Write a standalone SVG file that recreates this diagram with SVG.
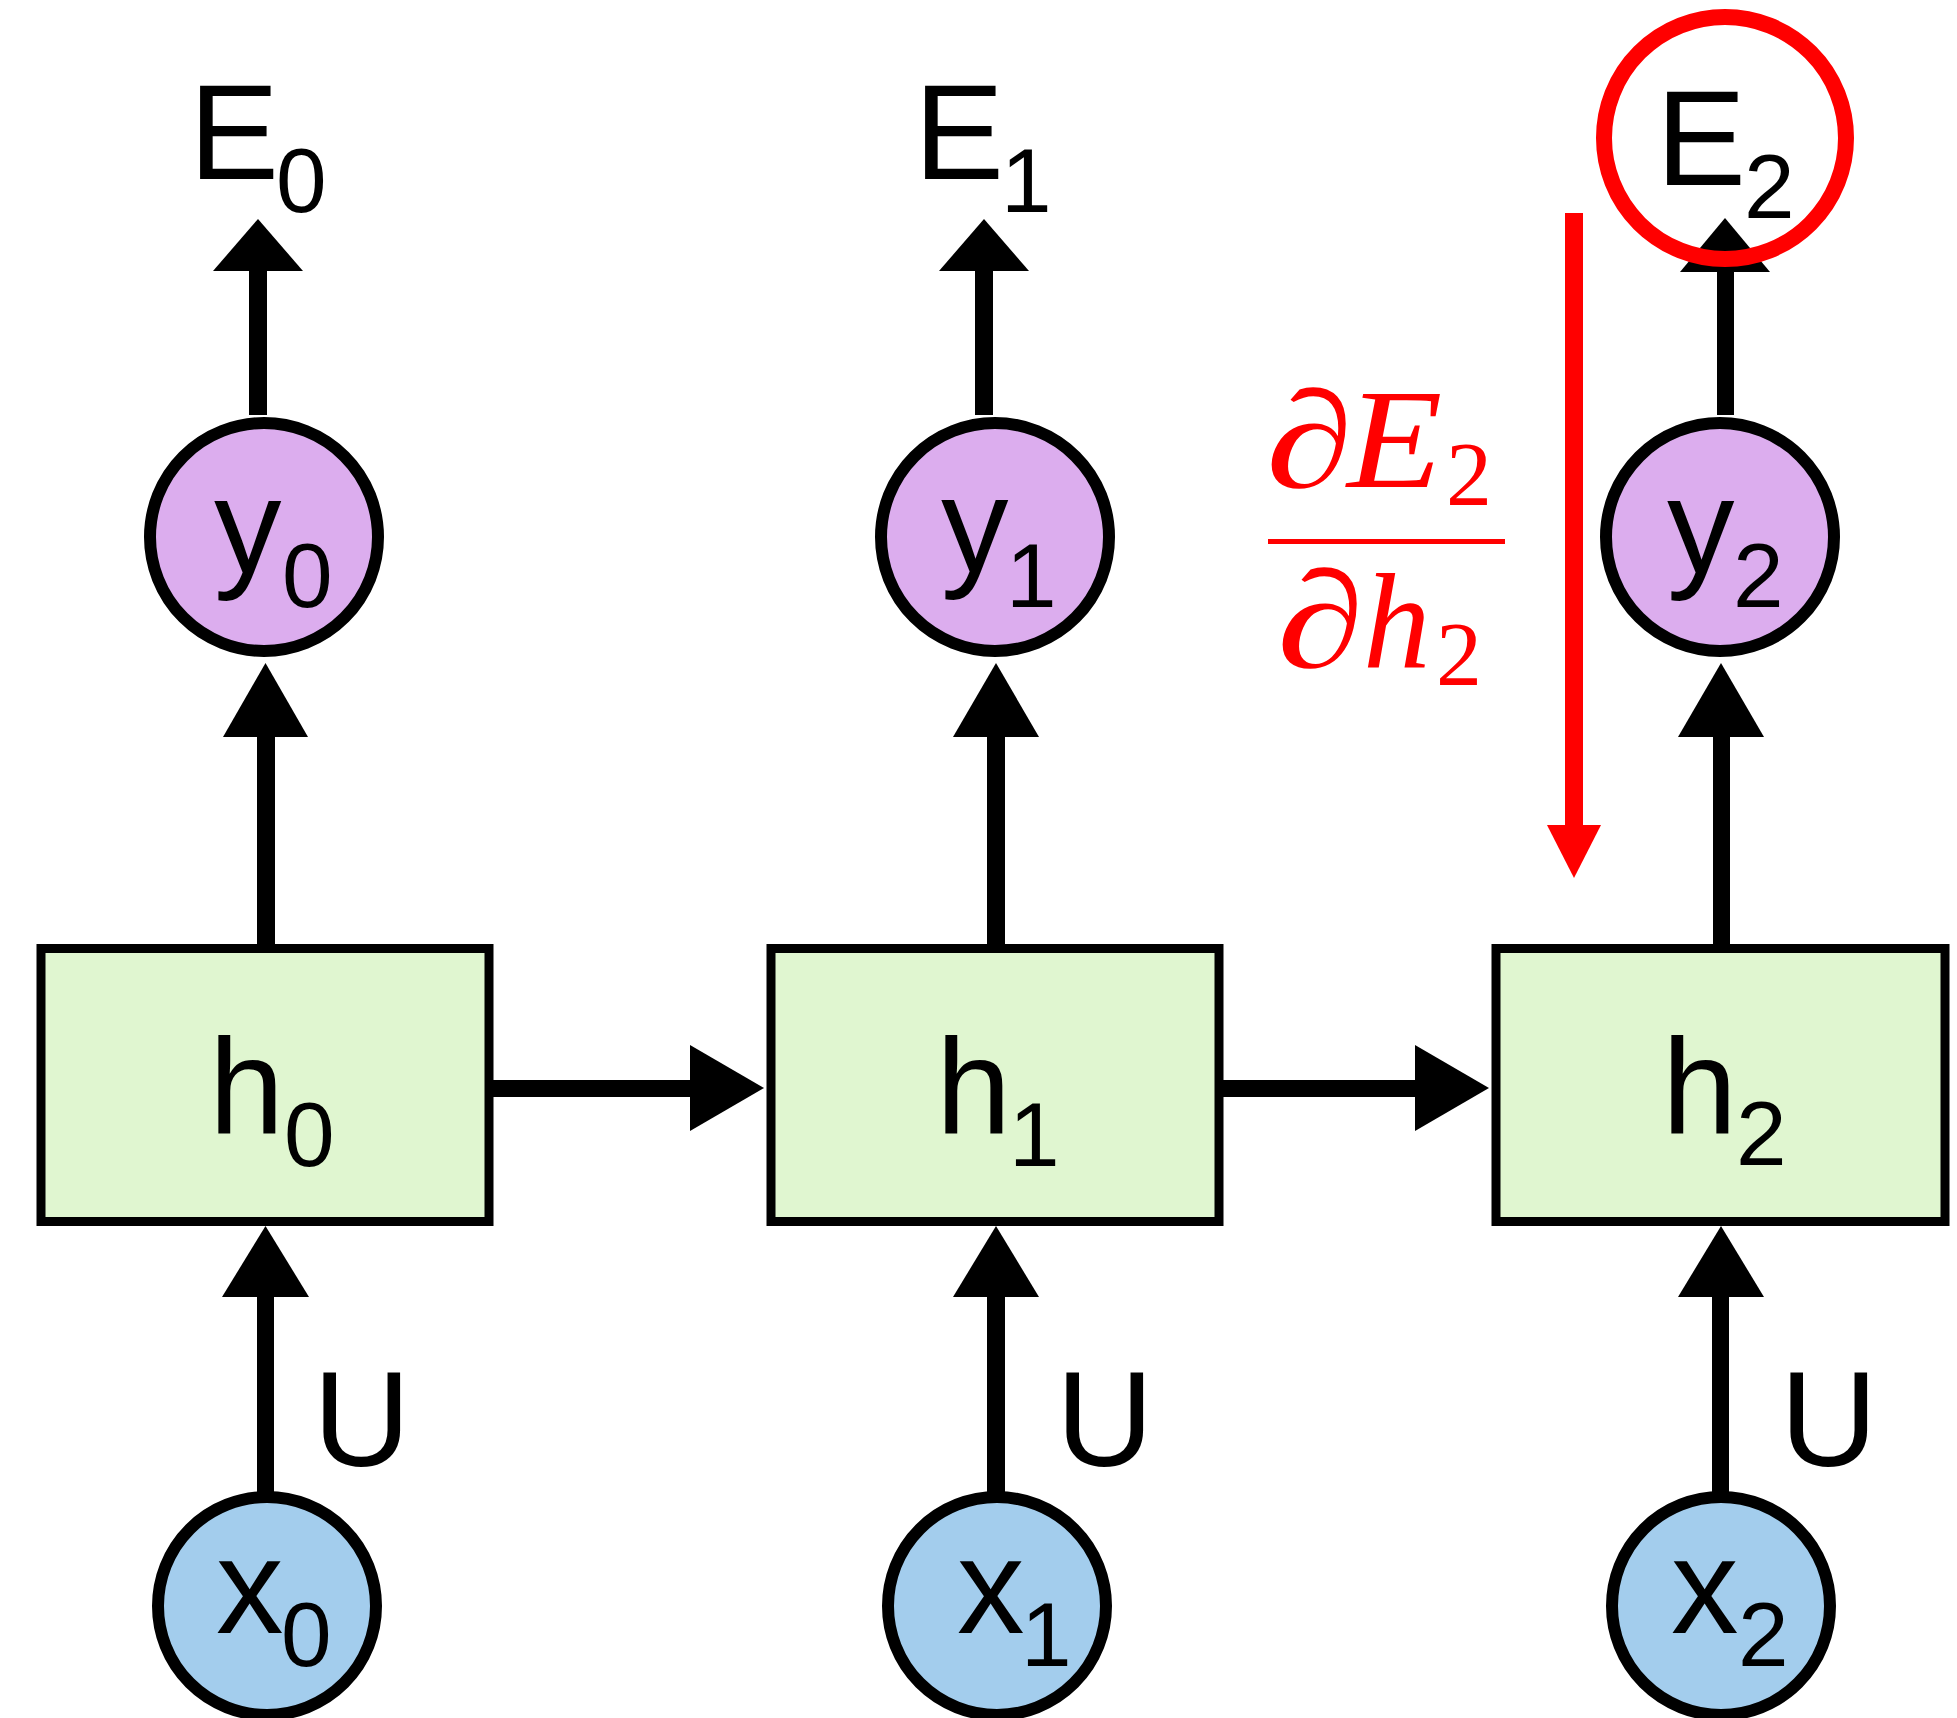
<svg xmlns="http://www.w3.org/2000/svg" width="1957" height="1718" viewBox="0 0 1957 1718">
<style>
.lbl{font-family:"Liberation Sans",Arial,sans-serif;font-size:135px;fill:#000}
.sub{font-size:91px}
.box{fill:#e0f6d0;stroke:#000;stroke-width:9}
.ynode{fill:#dcadee;stroke:#000;stroke-width:12}
.xnode{fill:#a3cded;stroke:#000;stroke-width:12}
.conn{fill:#000}
.red{fill:#ff0000}
.math{font-family:"Liberation Serif","Times New Roman",serif;fill:#ff0000}
.it{font-style:italic}
</style>
<rect width="1957" height="1718" fill="#fff"/>
<g id="connectors">
  <rect class="conn" x="249" y="268" width="18" height="147"/>
  <polygon class="conn" points="213,271 303,271 258,219"/>
  <rect class="conn" x="975" y="268" width="18" height="147"/>
  <polygon class="conn" points="939,271 1029,271 984,219"/>
  <rect class="conn" x="1717" y="268" width="17" height="147"/>
  <polygon class="conn" points="1680,272 1770,272 1725,218"/>
  <rect class="conn" x="257" y="734" width="18" height="212"/>
  <polygon class="conn" points="223,737 308,737 265.5,663"/>
  <rect class="conn" x="987" y="734" width="18" height="212"/>
  <polygon class="conn" points="953,737 1039,737 996,663"/>
  <rect class="conn" x="1713" y="734" width="17" height="212"/>
  <polygon class="conn" points="1678,737 1764,737 1721,663"/>
  <rect class="conn" x="257" y="1294" width="17" height="198"/>
  <polygon class="conn" points="222,1297 309,1297 265.5,1226"/>
  <rect class="conn" x="987" y="1294" width="18" height="198"/>
  <polygon class="conn" points="953,1297 1039,1297 996,1226"/>
  <rect class="conn" x="1712" y="1294" width="17" height="198"/>
  <polygon class="conn" points="1678,1297 1764,1297 1721,1226"/>
  <rect class="conn" x="490" y="1080" width="203" height="17"/>
  <polygon class="conn" points="690,1045 690,1131 764,1088"/>
  <rect class="conn" x="1220" y="1080" width="198" height="17"/>
  <polygon class="conn" points="1415,1045 1415,1131 1489,1088"/>
  <rect class="red" x="1565" y="213" width="18" height="615"/>
  <polygon class="red" points="1547,825 1601,825 1574,878"/>
</g>
<g id="E0"><text class="lbl" x="189" y="179">E<tspan class="sub" x="276" y="212">0</tspan></text></g>
<g id="E1"><text class="lbl" x="914" y="179">E<tspan class="sub" x="1001" y="212">1</tspan></text></g>
<g id="E2"><text class="lbl" x="1656" y="185">E<tspan class="sub" x="1744" y="218">2</tspan></text></g>
<g id="y0"><circle class="ynode" cx="264" cy="537" r="114"/><text class="lbl" x="214" y="573">y<tspan class="sub" x="282" y="607">0</tspan></text></g>
<g id="y1"><circle class="ynode" cx="995" cy="537" r="114"/><text class="lbl" x="941" y="572">y<tspan class="sub" x="1006" y="607">1</tspan></text></g>
<g id="y2"><circle class="ynode" cx="1720" cy="537" r="114"/><text class="lbl" x="1667" y="573">y<tspan class="sub" x="1733" y="607">2</tspan></text></g>
<g id="h0"><rect class="box" x="41" y="948.5" width="448" height="273"/><text class="lbl" x="209" y="1133">h<tspan class="sub" x="284" y="1166">0</tspan></text></g>
<g id="h1"><rect class="box" x="771" y="948.5" width="448" height="273"/><text class="lbl" x="936" y="1133">h<tspan class="sub" x="1009" y="1166">1</tspan></text></g>
<g id="h2"><rect class="box" x="1496" y="948.5" width="449" height="273"/><text class="lbl" x="1662" y="1133">h<tspan class="sub" x="1736" y="1165">2</tspan></text></g>
<g id="U0"><text class="lbl" x="313" y="1466">U</text></g>
<g id="U1"><text class="lbl" x="1056" y="1466">U</text></g>
<g id="U2"><text class="lbl" x="1780" y="1466">U</text></g>
<g id="x0"><circle class="xnode" cx="267" cy="1606" r="109"/><text class="lbl" x="216" y="1633">x<tspan class="sub" x="281" y="1666">0</tspan></text></g>
<g id="x1"><circle class="xnode" cx="997" cy="1606" r="109"/><text class="lbl" x="957" y="1633">x<tspan class="sub" x="1021" y="1666">1</tspan></text></g>
<g id="x2"><circle class="xnode" cx="1721" cy="1606" r="109"/><text class="lbl" x="1671" y="1633">x<tspan class="sub" x="1738" y="1666">2</tspan></text></g>
<g id="highlight"><circle cx="1725" cy="138" r="121" fill="none" stroke="#ff0000" stroke-width="16"/></g>
<g id="gradient-label">
  <text class="math" font-size="138" transform="translate(1266,487) scale(1.28,1)">∂</text>
  <text class="math it" font-size="142" transform="translate(1347,487) scale(1.1,1)">E</text>
  <text class="math" font-size="92" x="1446" y="505">2</text>
  <rect class="red" x="1268" y="539" width="237" height="5"/>
  <text class="math" font-size="138" transform="translate(1277,667) scale(1.28,1)">∂</text>
  <text class="math it" font-size="135" x="1363" y="667">h</text>
  <text class="math" font-size="92" x="1436" y="685">2</text>
</g>
</svg>
